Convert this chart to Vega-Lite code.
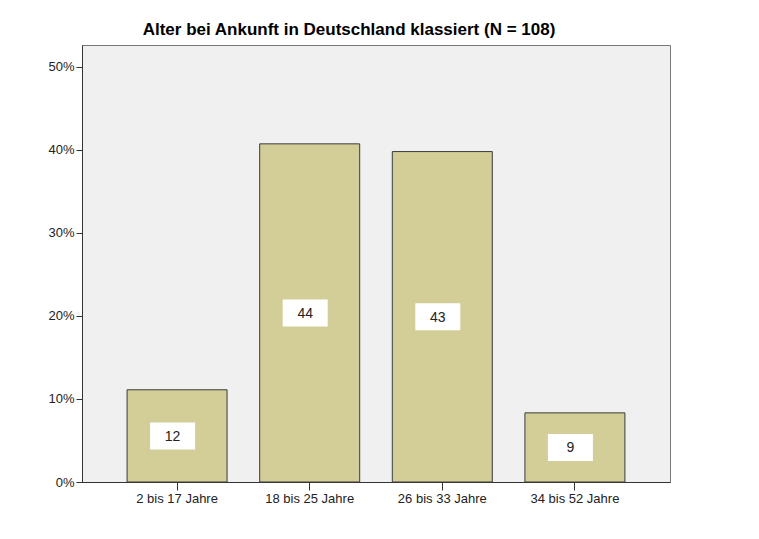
{
  "$schema": "https://vega.github.io/schema/vega-lite/v6.json",
  "autosize": {"type": "none"},
  "width": 588,
  "height": 437,
  "padding": {"left": 82, "top": 45, "right": 89, "bottom": 57},
  "background": "white",
  "title": {
    "text": "Alter bei Ankunft in Deutschland klassiert (N = 108)",
    "font": "Liberation Sans",
    "fontSize": 17,
    "fontWeight": "bold",
    "color": "#000000",
    "anchor": "middle",
    "dx": -27,
    "offset": 6
  },
  "data": {
    "values": [
      {"gruppe": "2 bis 17 Jahre", "anzahl": 12, "prozent": 0.1111},
      {"gruppe": "18 bis 25 Jahre", "anzahl": 44, "prozent": 0.4074},
      {"gruppe": "26 bis 33 Jahre", "anzahl": 43, "prozent": 0.3981},
      {"gruppe": "34 bis 52 Jahre", "anzahl": 9, "prozent": 0.0833}
    ]
  },
  "transform": [{"calculate": "datum.prozent / 2", "as": "mitte"}],
  "encoding": {
    "x": {
      "field": "gruppe",
      "type": "nominal",
      "sort": null,
      "scale": {"paddingInner": 0.246, "paddingOuter": 0.34},
      "axis": {
        "title": null,
        "labelAngle": 0,
        "labelFont": "Liberation Sans",
        "labelFontSize": 13,
        "labelColor": "#222222",
        "labelPadding": 2,
        "tickSize": 8,
        "tickColor": "#333333",
        "domainColor": "#333333",
        "grid": false
      }
    }
  },
  "layer": [
    {
      "mark": {"type": "bar", "fill": "#d3ce98", "stroke": "#3a3a3a", "strokeWidth": 1},
      "encoding": {
        "y": {
          "field": "prozent",
          "type": "quantitative",
          "scale": {"domain": [0, 0.5265], "nice": false},
          "axis": {
            "title": null,
            "format": ".0%",
            "values": [0, 0.1, 0.2, 0.3, 0.4, 0.5],
            "labelFont": "Liberation Sans",
            "labelFontSize": 13,
            "labelColor": "#222222",
            "labelPadding": 2,
            "tickSize": 6,
            "tickColor": "#333333",
            "domainColor": "#333333",
            "grid": false
          }
        }
      }
    },
    {
      "mark": {
        "type": "point",
        "shape": "M-1,-0.6L1,-0.6L1,0.6L-1,0.6Z",
        "size": 2025,
        "filled": true,
        "fill": "#ffffff",
        "opacity": 1,
        "strokeWidth": 0,
        "xOffset": -4.5
      },
      "encoding": {
        "y": {"field": "mitte", "type": "quantitative"}
      }
    },
    {
      "mark": {
        "type": "text",
        "font": "Liberation Sans",
        "fontSize": 14,
        "color": "#222222",
        "baseline": "middle",
        "align": "center",
        "xOffset": -4.5,
        "dy": 1
      },
      "encoding": {
        "y": {"field": "mitte", "type": "quantitative"},
        "text": {"field": "anzahl", "type": "quantitative"}
      }
    }
  ],
  "config": {
    "view": {"fill": "#f0f0f0", "stroke": "#777777", "strokeWidth": 1}
  }
}
